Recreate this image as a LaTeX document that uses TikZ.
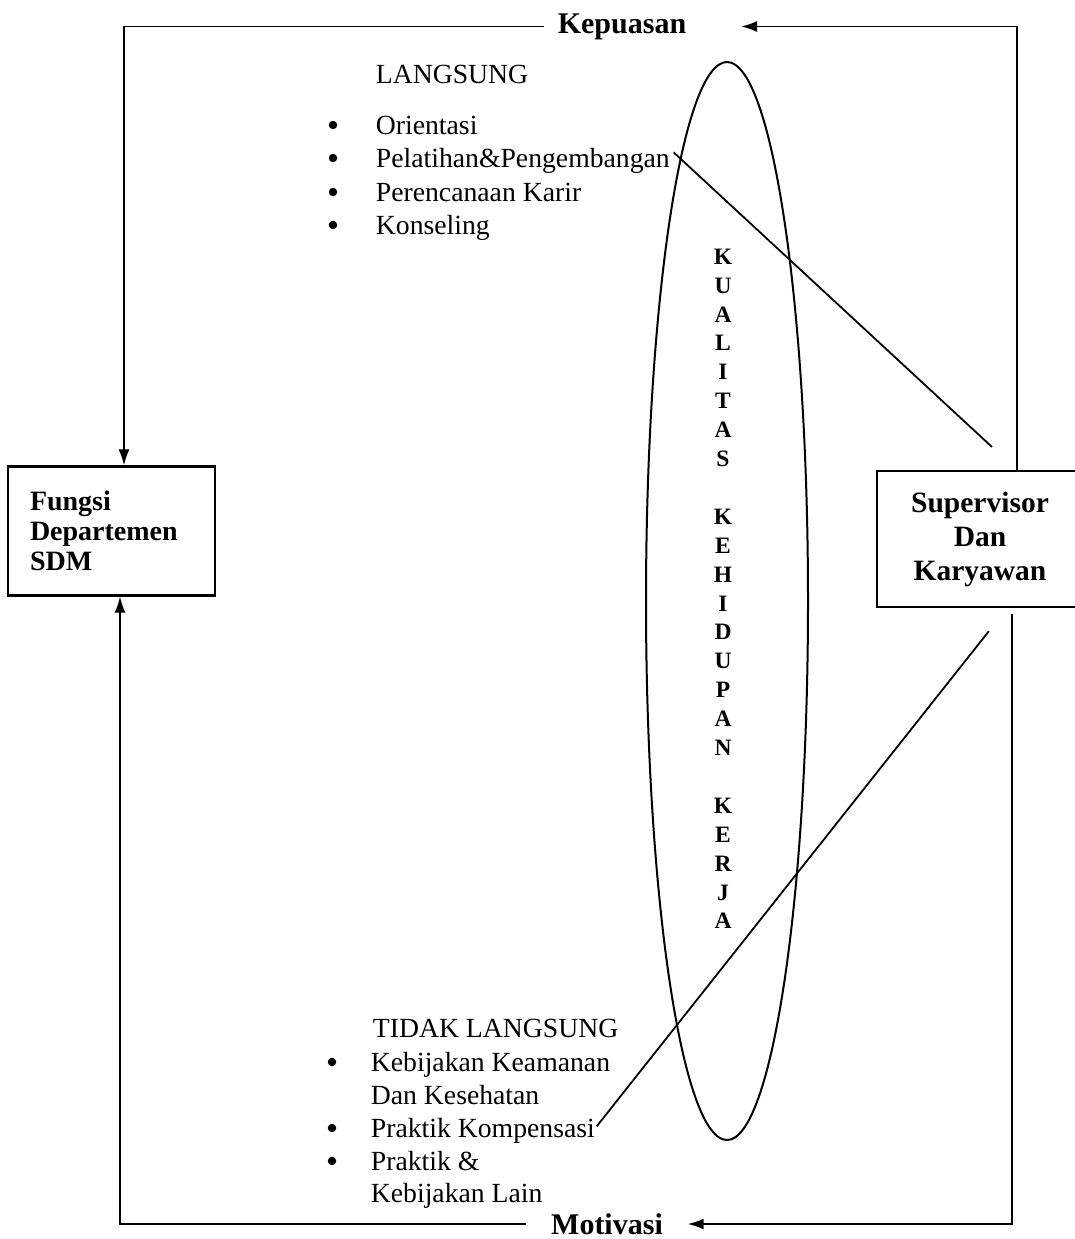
\documentclass[tikz,border=0pt]{standalone}
\usepackage{fontspec}
\setmainfont{Liberation Serif}
\usetikzlibrary{arrows.meta,shapes.geometric}
\begin{document}
\begin{tikzpicture}[x=1pt,y=-1pt,
  line width=1.8pt,
  arr/.style={-{Latex[length=16pt,width=11pt]}},
  reg/.style={font=\fontsize{27.7}{34}\selectfont, inner sep=0pt, anchor=base west},
  hdr/.style={font=\bfseries\fontsize{30}{34}\selectfont, inner ysep=0pt},
  box/.style={draw, line width=2.2pt},
  bul/.style={circle, fill, inner sep=0pt, minimum size=8.5pt},
  ]
\fill[white] (0,0) rectangle (1074,1239);
\useasboundingbox (0,0) rectangle (1074,1239);

% boxes
\node[box, minimum height=129pt, align=left, text width=163pt, inner xsep=22pt,
      font=\bfseries\fontsize{28}{30}\selectfont] (sdm) at (111.5,531) {Fungsi\\Departemen\\SDM};
\node[box, minimum width=206pt, minimum height=136pt, align=center,
      font=\bfseries\fontsize{29.5}{34}\selectfont] (sk) at (980,539) {Supervisor\\Dan\\Karyawan};

% loop labels
\node[hdr, inner xsep=13pt] (kep) at (622,26.5) {Kepuasan};
\node[hdr, inner xsep=24pt, text depth=0pt] (mot) at (607,1224) {Motivasi};

% loop connectors
\draw[arr] (kep.west) -| ([xshift=12.5pt]sdm.north);
\draw[arr] ([xshift=37pt]sk.north) |- ([xshift=41pt]kep.east);
\draw[arr] ([xshift=32pt,yshift=-6pt]sk.south) |- (mot.east);
\draw[arr] (mot.west) -| ([xshift=8.5pt]sdm.south);

% LANGSUNG list
\node[reg] (lang) at (375,84) {LANGSUNG};
\node[bul] (ba1) at (333,125) {};
\node[reg] (a1) at (375,134) {Orientasi};
\node[bul] (ba2) at (333,158) {};
\node[reg] (a2) at (375,167) {Pelatihan\&Pengembangan};
\node[bul] (ba3) at (333,192) {};
\node[reg] (a3) at (375,201) {Perencanaan Karir};
\node[bul] (ba4) at (333,225) {};
\node[reg] (a4) at (375,234) {Konseling};

% TIDAK LANGSUNG list
\node[reg] (tlang) at (372,1037) {TIDAK LANGSUNG};
\node[bul] (bb1) at (332,1062) {};
\node[reg] (t1) at (370,1071) {Kebijakan Keamanan};
\node[reg] (t1b) at (370,1104) {Dan Kesehatan};
\node[bul] (bb2) at (332,1128) {};
\node[reg] (t2) at (370,1137) {Praktik Kompensasi};
\node[bul] (bb3) at (332,1161) {};
\node[reg] (t3) at (370,1170) {Praktik \&};
\node[reg] (t3b) at (370,1202) {Kebijakan Lain};

% ellipse with vertical text
\node[draw, ellipse, line width=2pt, minimum width=162pt, minimum height=1078pt, inner sep=0pt] (ell) at (727,601) {};
\node[font=\bfseries\fontsize{23.5}{28.9}\selectfont, align=center, inner sep=0pt, anchor=north] (kkk) at (723,248)
  {K\\U\\A\\L\\I\\T\\A\\S\\[28.9pt]K\\E\\H\\I\\D\\U\\P\\A\\N\\[28.9pt]K\\E\\R\\J\\A};

% diagonals
\draw ([shift={(3pt,8pt)}]a2.east) -- ([shift={(116pt,23pt)}]sk.north west);
\draw ([shift={(113pt,-23pt)}]sk.south west) -- ([shift={(1pt,4pt)}]t2.east);
\end{tikzpicture}
\end{document}
